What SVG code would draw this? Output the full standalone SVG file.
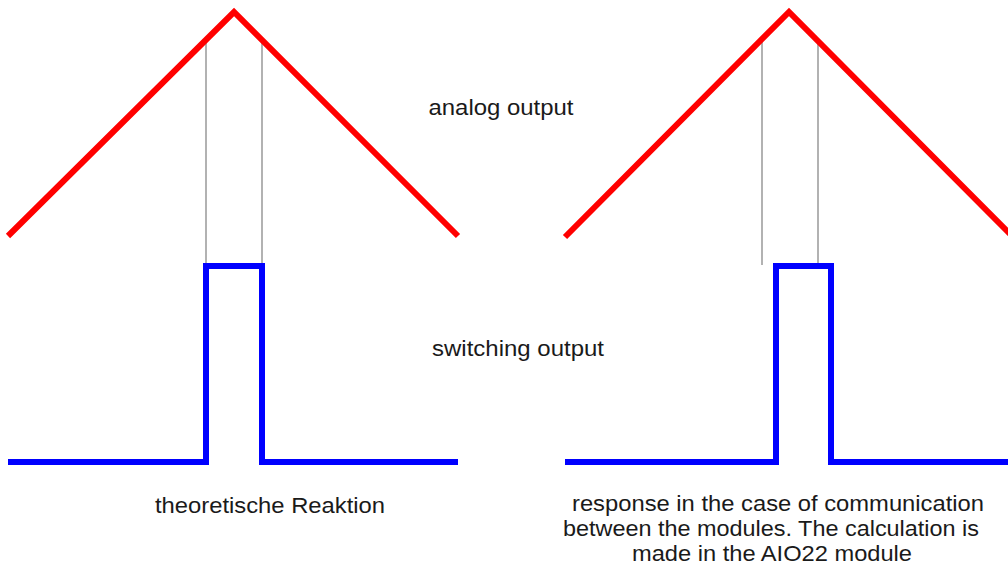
<svg xmlns="http://www.w3.org/2000/svg" width="1008" height="567" viewBox="0 0 1008 567">
<style>
.red{fill:none;stroke:#ff0000;stroke-width:6;stroke-linejoin:miter}
.blue{fill:none;stroke:#0000ff;stroke-width:6;stroke-linejoin:miter}
.gray{stroke:#999999;stroke-width:1.5}
text{font-family:"Liberation Sans",Arial,sans-serif;font-size:22px;fill:#1a1a1a;text-anchor:middle}
</style>
<rect width="1008" height="567" fill="#ffffff"/>
<g id="left">
<line class="gray" x1="206" y1="40" x2="206" y2="265"/>
<line class="gray" x1="262" y1="40" x2="262" y2="265"/>
<polyline class="red" points="8,236 234,12 458,236"/>
<polyline class="blue" points="8,462 206,462 206,266 262,266 262,462 458,462"/>
<text x="270" y="513" textLength="230" lengthAdjust="spacingAndGlyphs">theoretische Reaktion</text>
</g>
<g id="right">
<line class="gray" x1="762" y1="40" x2="762" y2="265"/>
<line class="gray" x1="818" y1="40" x2="818" y2="265"/>
<polyline class="red" points="565,237 789,12 1010,234"/>
<polyline class="blue" points="565,462 776,462 776,266 831,266 831,462 1008,462"/>
<text x="778" y="511" textLength="412" lengthAdjust="spacingAndGlyphs">response in the case of communication</text>
<text x="771" y="536" textLength="416" lengthAdjust="spacingAndGlyphs">between the modules. The calculation is</text>
<text x="772" y="561" textLength="280" lengthAdjust="spacingAndGlyphs">made in the AIO22 module</text>
</g>
<g id="labels">
<text x="501" y="115" textLength="145" lengthAdjust="spacingAndGlyphs">analog output</text>
<text x="518" y="356" textLength="172" lengthAdjust="spacingAndGlyphs">switching output</text>
</g>
</svg>
